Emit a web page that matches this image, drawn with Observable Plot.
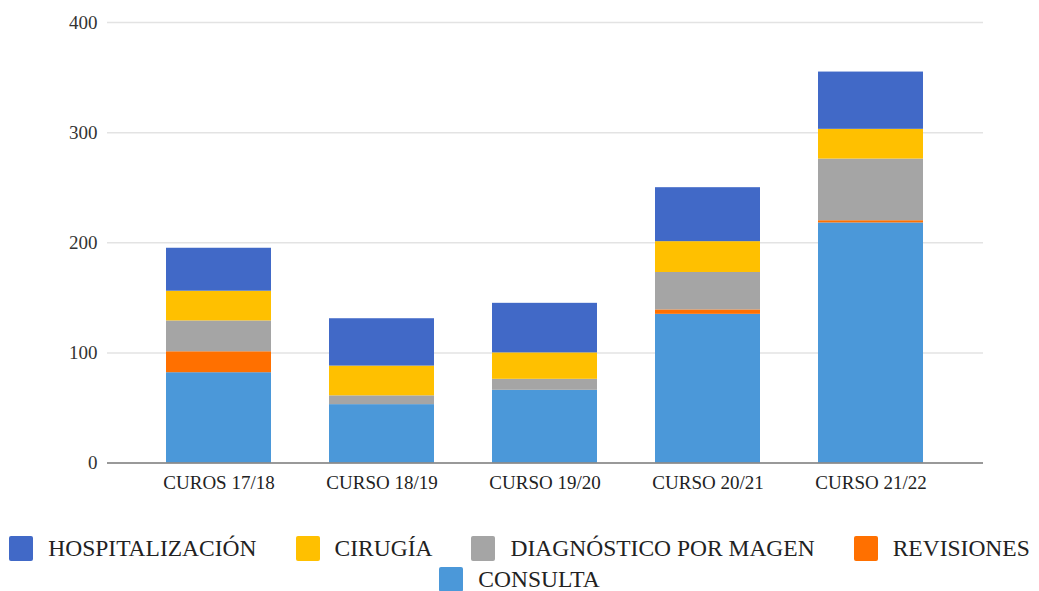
<!DOCTYPE html>
<html>
<head>
<meta charset="utf-8">
<script src="https://cdn.jsdelivr.net/npm/d3@7"></script>
<script src="https://cdn.jsdelivr.net/npm/@observablehq/plot@0.6"></script>
<style>
  html, body { margin: 0; padding: 0; background: #fff; }
  #chart { width: 1039px; }
  .legend {
    width: 1039px;
    display: flex; flex-wrap: wrap; justify-content: center;
    column-gap: 39px; row-gap: 6px;
    margin-top: 36px;
    font-family: "Liberation Serif", "Times New Roman", "DejaVu Serif", serif; font-size: 23.5px; color: #222;
  }
  .legend .item { display: flex; align-items: center; height: 25px; }
  .legend .sw { width: 24px; height: 25px; border-radius: 2px; margin-right: 15px; }
  svg text { font-family: "Liberation Serif", "Times New Roman", "DejaVu Serif", serif; }
</style>
</head>
<body>
<div id="chart"></div>
<script>
const categories = ["CUROS 17/18", "CURSO 18/19", "CURSO 19/20", "CURSO 20/21", "CURSO 21/22"];
const seriesNames = ["CONSULTA", "REVISIONES", "DIAGNÓSTICO POR MAGEN", "CIRUGÍA", "HOSPITALIZACIÓN"];
const consulta = [82, 53, 66, 135, 218];
const revisiones = [19, 0, 0, 4, 2];
const diagnostico = [28, 8, 10, 34, 56];
const cirugia = [27, 27, 24, 28, 27];
const hospitalizacion = [39, 43, 45, 49, 52];
const colors = ["#4b98d9", "#ff7000", "#a5a5a5", "#ffc000", "#4169c7"];
const yTicks = [0, 100, 200, 300, 400];
const legendOrder = ["HOSPITALIZACIÓN", "CIRUGÍA", "DIAGNÓSTICO POR MAGEN", "REVISIONES", "CONSULTA"];

const seriesValues = [consulta, revisiones, diagnostico, cirugia, hospitalizacion];
const data = [];
categories.forEach((c, i) => {
  seriesNames.forEach((s, j) => {
    data.push({category: c, series: s, value: seriesValues[j][i]});
  });
});

const chart = Plot.plot({
  width: 1039,
  height: 500,
  marginLeft: 107,
  marginRight: 56,
  marginTop: 22,
  marginBottom: 37.5,
  style: {fontFamily: "'Liberation Serif', 'Times New Roman', serif", fontSize: "19px", color: "#222", background: "#fff"},
  x: {domain: categories, paddingInner: 0.355, paddingOuter: 0.36, label: null, tickSize: 0, tickPadding: 12},
  y: {domain: [0, 400], ticks: yTicks, label: null, tickSize: 0, tickPadding: 10},
  color: {domain: seriesNames, range: colors},
  marks: [
    Plot.ruleY(yTicks.slice(1), {stroke: "#e3e3e3", strokeWidth: 1.5}),
    Plot.barY(data, Plot.stackY({x: "category", y: "value", fill: "series", order: null})),
    Plot.ruleY([0], {stroke: "#777", strokeWidth: 1.5}),
    Plot.axisX({tickSize: 0, tickPadding: 12, fill: "#222"}),
    Plot.axisY({ticks: yTicks, tickSize: 0, tickPadding: 10, fill: "#333"})
  ]
});
document.getElementById("chart").appendChild(chart);

const legend = document.createElement("div");
legend.className = "legend";
legendOrder.forEach(name => {
  const item = document.createElement("div");
  item.className = "item";
  const sw = document.createElement("div");
  sw.className = "sw";
  sw.style.background = colors[seriesNames.indexOf(name)];
  const t = document.createElement("span");
  t.textContent = name;
  item.appendChild(sw);
  item.appendChild(t);
  legend.appendChild(item);
});
document.getElementById("chart").appendChild(legend);
</script>
</body>
</html>
